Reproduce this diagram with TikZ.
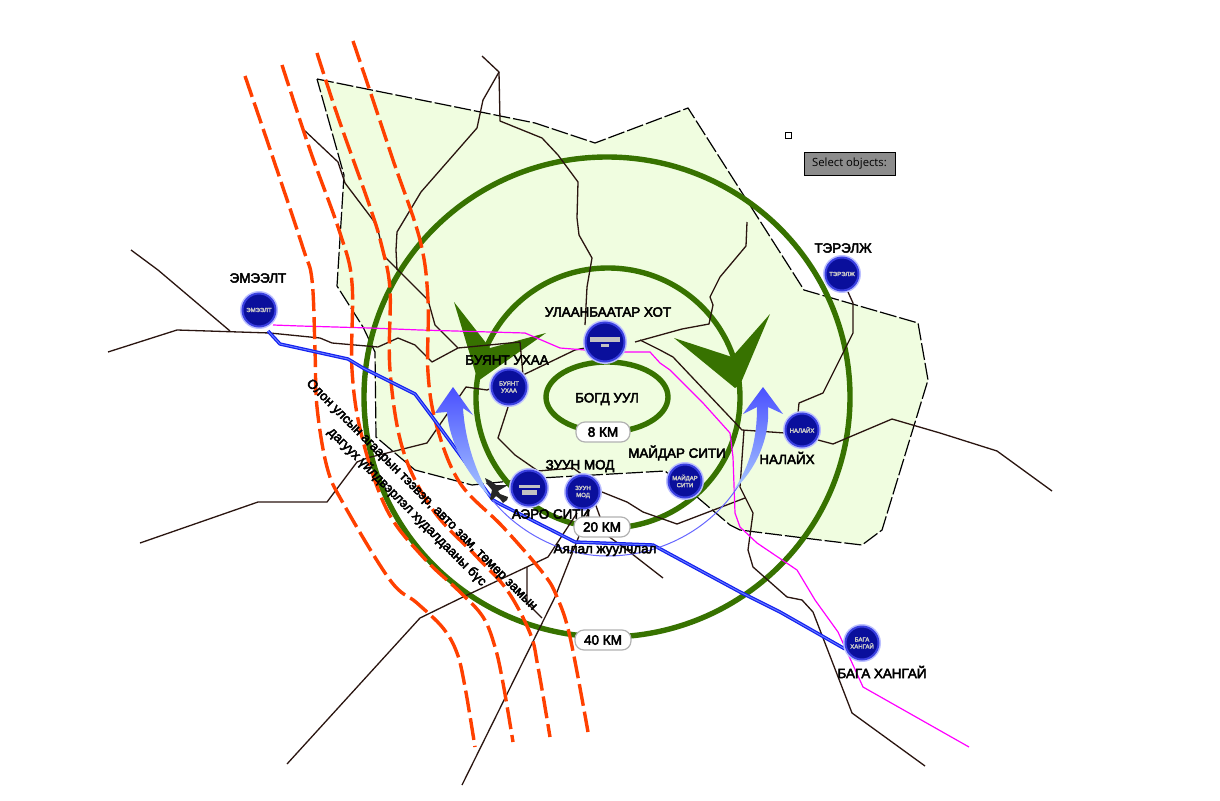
\documentclass[tikz,border=0pt]{standalone}
\usepackage{fontspec}
\setmainfont{Liberation Sans}
\newfontfamily\labfont[FakeBold=3.5]{Liberation Sans}
\newfontfamily\uifont{Open Sans}
\definecolor{zonefill}{HTML}{F0FDE0}
\definecolor{ringgreen}{HTML}{377200}
\definecolor{roadcol}{HTML}{2A1510}
\definecolor{redline}{HTML}{FF4000}
\definecolor{magline}{HTML}{FF00FF}
\definecolor{railblue}{HTML}{1420F0}
\definecolor{railcore}{HTML}{6A80FF}
\definecolor{mkcore}{HTML}{0A0F9C}
\definecolor{mkedge}{HTML}{3A40E0}
\definecolor{mkglow}{HTML}{BCC0FF}
\definecolor{flowtop}{HTML}{4A50FF}
\definecolor{flowmid}{HTML}{6A90FF}
\definecolor{flowlow}{HTML}{A8C8FF}
\tikzset{
  ring/.style={draw=ringgreen,line width=5.4},
  road/.style={draw=roadcol,line width=1.3,line join=round},
  zone/.style={draw=black,fill=zonefill,line width=1.2,dash pattern=on 17 off 3},
  redway/.style={draw=redline,line width=3.4,dash pattern=on 22 off 6},
  magway/.style={draw=magline,line width=1.2},
  chevron/.style={fill=ringgreen},
  pill/.style={draw=black!30,fill=white,rounded corners=9,line width=1.2,minimum width=54,minimum height=20,inner sep=0,font=\labfont\fontsize{13.5}{16}\selectfont},
  lab/.style={font=\labfont\fontsize{13.4}{16}\selectfont,inner sep=0,text=black},
  rotlab/.style={font=\labfont\fontsize{13.2}{16}\selectfont,inner sep=0,text=black,rotate=-45},
  mk/.style={circle,fill=mkcore,draw=mkedge,line width=2,minimum size=33,inner sep=0,preaction={draw=mkglow,line width=5},align=center,text=black!22,font=\labfont\fontsize{6}{7}\selectfont},
  bar/.style={fill=black!24},
  upflow/.style={top color=flowtop,middle color=flowmid,bottom color=flowlow,shading angle=0}
}
\begin{document}
\begin{tikzpicture}[x=1pt,y=-1pt]
\path[use as bounding box,fill=white] (0,0) rectangle (1220,800);
% zone
\path[zone] (317,79) -- (535,123) -- (595,143) -- (688,108) -- (804,290) -- (918,323) -- (928,380) -- (882,530) -- (862,545) -- (820,540) -- (740,530) -- (730,525) -- (697,497) -- (665,471) -- (540,478) -- (472,485) -- (415,470) -- (376,437) -- (375,352) -- (363,327) -- (337,286) -- (344,175) -- cycle;
% rings
\draw[ring] (607,397) ellipse [x radius=243,y radius=240];
\draw[ring] (608,398) ellipse [x radius=132,y radius=130];
\draw[ring] (607,397) ellipse [x radius=61,y radius=35];
% chevrons
\fill[chevron] (454,302) -- (490,348) -- (546,333) -- (478,381) -- (467,345) -- cycle;
\fill[chevron] (674,338) -- (732,357) -- (770,314) -- (740,385) -- (735,388) -- cycle;
% roads
\draw[road] (131,250) -- (158,270) -- (230,331);
\draw[road] (108,352) -- (177,330) -- (270,333) -- (320,338) -- (332,343) -- (378,347) -- (398,338) -- (415,345) -- (432,362) -- (458,348) -- (520,342) -- (523,375);
\draw[road] (304,130) -- (338,162) -- (345,183) -- (373,220) -- (378,230) -- (382,247) -- (385,257) -- (428,300) -- (435,325) -- (458,348);
\draw[road] (482,56) -- (499,72) -- (483,100) -- (477,128) -- (421,192) -- (397,232) -- (396,250) -- (397,270);
\draw[road] (499,72) -- (500,121) -- (542,138) -- (558,155) -- (578,182) -- (577,218) -- (579,235) -- (592,258) -- (587,287) -- (585,325);
\draw[road] (140,543) -- (258,502) -- (327,502) -- (357,462) -- (367,458) -- (427,443) -- (466,387) -- (487,390) -- (523,375) -- (575,350) -- (600,345);
\draw[road] (509,404) -- (498,438) -- (515,455) -- (538,471) -- (573,468) -- (590,480);
\draw[road] (747,222) -- (746,246) -- (720,277) -- (710,297) -- (713,305) -- (709,324) -- (682,329) -- (635,342);
\draw[road] (640,340) -- (660,350) -- (673,357) -- (742,430) -- (785,433);
\draw[road] (818,440) -- (833,444) -- (892,419) -- (940,433) -- (997,451) -- (1052,491);
\draw[road] (744,430) -- (740,487) -- (753,513) -- (748,550) -- (753,567) -- (787,597) -- (802,600) -- (813,612) -- (852,713) -- (925,766);
\draw[road] (848,292) -- (853,303) -- (853,333) -- (843,353) -- (823,393) -- (799,403) -- (798,413);
\draw[road] (602,492) -- (627,502) -- (643,512) -- (677,524) -- (745,498);
\draw[road] (592,503) -- (555,597) -- (462,785);
\draw[road] (595,503) -- (600,517);
\draw[road] (577,513) -- (548,557) -- (463,597) -- (420,618) -- (287,764);
\draw[road] (600,530) -- (627,550) -- (663,578);
\draw[road] (527,567) -- (527,603) -- (542,618);
% magenta
\draw[magway] (273,325) -- (300,326) -- (370,328) -- (420,330) -- (525,333) -- (560,348) -- (610,352) -- (650,352) -- (660,363) -- (670,370) -- (703,403) -- (730,433) -- (733,457) -- (735,513) -- (740,527) -- (757,543) -- (797,570) -- (815,600) -- (838,632) -- (863,687) -- (969,747);
% red corridors
\draw[redway] plot[smooth,tension=.6] coordinates {(245,76) (273,158) (303,248) (312,280) (315,350) (317,407) (327,467) (343,503) (390,580) (417,603) (443,628) (457,653) (465,687) (475,747)};
\draw[redway] plot[smooth,tension=.6] coordinates {(282,65) (310,150) (340,233) (352,283) (352,370) (362,437) (387,510) (423,557) (460,592) (483,617) (495,647) (503,683) (513,742)};
\draw[redway] plot[smooth,tension=.6] coordinates {(317,53) (338,117) (370,207) (382,247) (390,290) (390,370) (403,450) (433,510) (477,557) (507,590) (530,633) (538,667) (550,737)};
\draw[redway] plot[smooth,tension=.6] coordinates {(353,41) (373,100) (393,160) (420,240) (428,300) (428,373) (437,427) (460,483) (503,527) (543,573) (557,597) (570,637) (588,732)};
% blue rail
\draw[railblue,line width=3.4,line join=round] (268,331) -- (280,344) -- (348,359) -- (363,368) -- (415,394) -- (433,418) -- (493,500) -- (500,504) -- (575,542) -- (653,545) -- (740,592) -- (780,612) -- (845,649);
\draw[railcore,line width=.9,line join=round] (268,331) -- (280,344) -- (348,359) -- (363,368) -- (415,394) -- (433,418) -- (493,500) -- (500,504) -- (575,542) -- (653,545) -- (740,592) -- (780,612) -- (845,649);
% tourist loop
\draw[blue!60!white,line width=1] (490,497) .. controls (515,530) and (560,556) .. (607,556) .. controls (665,556) and (715,525) .. (740,483);
\shade[upflow] (453,387) -- (473,415) -- (463,408) .. controls (465,440) and (475,470) .. (490,497) .. controls (468,475) and (450,445) .. (447,412) -- (435,413) -- cycle;
\shade[upflow] (763,387) -- (783,414) -- (768,407) .. controls (770,440) and (755,470) .. (734,490) .. controls (750,465) and (757,440) .. (757,407) -- (743,414) -- cycle;
% markers
\node[mk] (em) at (259,310) {ЭМЭЭЛТ};
\node[mk,minimum size=39] (ub) at (605,342) {};
\fill[bar] (590,337) rectangle (620,342);
\fill[bar] (601,344) rectangle (609,347);
\node[mk,minimum size=35] (bu) at (509,387) {БУЯНТ\\УХАА};
\node[mk,minimum size=35] (ae) at (529,488) {};
\fill[bar] (519,485) rectangle (540,488);
\fill[bar] (522,490) rectangle (537,495);
\node[mk] (zu) at (583,492) {ЗУУН\\МОД};
\node[mk] (ma) at (685,481) {МАЙДАР\\СИТИ};
\node[mk] (na) at (802,430) {НАЛАЙХ};
\node[mk] (te) at (842,274) {ТЭРЭЛЖ};
\node[mk] (ba) at (862,643) {БАГА\\ХАНГАЙ};
% plane
\fill[black!85] (485,478) -- (491,481) -- (496,485) -- (508,485) -- (498,491) -- (500,494) -- (508,497) -- (507,500) -- (503,503) -- (500,499) -- (496,496) -- (492,500) -- (490,499) -- (492,490) -- (487,484) -- cycle;
% labels
\node[lab] (l1) at (258,278) {ЭМЭЭЛТ};
\node[lab] (l2) at (608,312) {УЛААНБААТАР ХОТ};
\node[lab] (l3) at (507,360) {БУЯНТ УХАА};
\node[lab] (l4) at (607,399) {БОГД УУЛ};
\node[lab] (l5) at (580,466) {ЗУУН МОД};
\node[lab] (l6) at (677,453) {МАЙДАР СИТИ};
\node[lab] (l7) at (787,458) {НАЛАЙХ};
\node[lab] (l8) at (551,514) {АЭРО СИТИ};
\node[lab] (l9) at (605,550) {Аялал жуулчлал};
\node[lab] (l10) at (843,248) {ТЭРЭЛЖ};
\node[lab] (l11) at (882,672) {БАГА ХАНГАЙ};
\node[pill] (p8) at (603,432) {8 КМ};
\node[pill,minimum width=56] (p20) at (602,527) {20 КМ};
\node[pill,minimum width=56] (p40) at (603,640) {40 КМ};
\node[rotlab] (r1) at (421.5,495) {Олон улсын агаарын тээвэр, авто зам, төмөр замын};
\node[rotlab] (r2) at (407,507) {дагуух үйлдвэрлэл худалдааны бүс};
% cursor widgets
\node[draw=black,fill=white,line width=1,minimum size=6,inner sep=0] (sq) at (788,135) {};
\node[draw=black,fill=black!45,line width=1,minimum width=91,minimum height=23,inner sep=0,font=\uifont\fontsize{11.3}{13}\selectfont] (sel) at (849.5,163.5) {Select objects:\hspace{6pt}};
\end{tikzpicture}
\end{document}
